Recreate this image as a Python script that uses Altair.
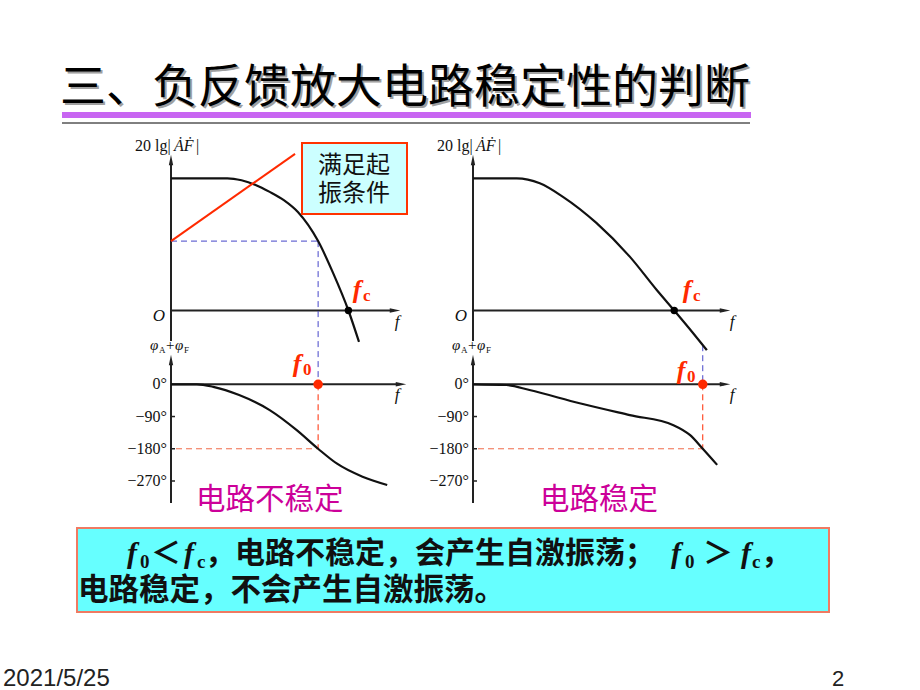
import altair as alt
import pandas as pd

# ---------------- data ----------------
title_text = "三、负反馈放大电路稳定性的判断"
callout_lines = ["满足起", "振条件"]
verdict_left = "电路不稳定"
verdict_right = "电路稳定"
summary_mid = "，电路不稳定，会产生自激振荡；"
summary_line2 = "电路稳定，不会产生自激振荡。"
footer_date = "2021/5/25"
footer_page = "2"

# unstable case (left column): relative frequency f, 20lg|AF| in dB, phase in degrees
L_mag_f = [0, 2.4, 3.0, 3.6, 4.2, 4.8, 5.4, 6.26, 6.9, 7.55, 8.0]
L_mag_db = [40, 40, 39.4, 38.0, 35.9, 33.4, 29.8, 21.0, 11.3, 0, -9.5]
L_ph_f = [0, 1.1, 1.8, 2.9, 4.2, 5.35, 6.26, 7.05, 8.15, 9.2]
L_ph_deg = [0, 0, -7, -30, -72, -128, -180, -221, -258, -281]
L_fc, L_f0 = 7.55, 6.26
L_level_db = 21.0
osc_line_f = [0, 5.28]
osc_line_db = [21.0, 47.4]

# stable case (right column)
R_mag_f = [0, 1.7, 2.6, 3.5, 4.8, 6.1, 7.15, 7.83, 8.56, 9.1]
R_mag_db = [40, 40, 38.5, 34.4, 26.5, 16.3, 6.2, 0, -6.8, -12.0]
R_ph_f = [0, 1.3, 2.2, 4.15, 6.1, 7.8, 8.45, 8.94, 9.5]
R_ph_deg = [0, -2, -16, -53, -86, -114, -142, -180, -225]
R_fc, R_f0 = 7.83, 8.94
R_level_db = -10.5

phase_ticks = [0, -90, -180, -270]
phase_tick_labels = ["0°", "−90°", "−180°", "−270°"]

# ---------------- geometry / style ----------------
W, H = 920, 690
F_PX = {"L": (171.0, 406.0), "R": (473.0, 730.0)}   # pixel of f=0 and f=10
MAG_PX = (310.5, 178.3)                             # pixel of 0 dB and 40 dB
PH_PX = (384.3, 481.0)                              # pixel of 0° and -270°
SERIF = "Liberation Serif, DejaVu Serif, serif"
CJK = "Noto Sans CJK SC"
SANS = "Liberation Sans, Arial, sans-serif"
RED = "#FF2A00"
BLUE = "#4646C8"
INK = "#111111"


def mag_from_px(p):
    return (p - MAG_PX[0]) * 40 / (MAG_PX[1] - MAG_PX[0])


def ph_from_px(p):
    return (p - PH_PX[0]) * -270 / (PH_PX[1] - PH_PX[0])


def f_from_px(col, p):
    a, b = F_PX[col]
    return (p - a) * 10 / (b - a)


def xscale(col):
    if col == "C":
        return alt.Scale(domain=[0, W], range=[0, W], nice=False, zero=False)
    return alt.Scale(domain=[0, 10], range=list(F_PX[col]), nice=False, zero=False)


def yscale(kind):
    if kind == "mag":
        return alt.Scale(domain=[0, 40], range=[MAG_PX[0], MAG_PX[1]], nice=False, zero=False)
    if kind == "ph":
        return alt.Scale(domain=[-270, 0], range=[PH_PX[1], PH_PX[0]], nice=False, zero=False)
    return alt.Scale(domain=[0, H], range=[0, H], nice=False, zero=False)


def XY(col, kind):
    return dict(x=alt.X("f:Q", scale=xscale(col), axis=None),
                y=alt.Y("v:Q", scale=yscale(kind), axis=None))


layers = []


def add_line(f, v, col, kind, color=INK, width=2.0, interp="monotone"):
    df = pd.DataFrame({"f": f, "v": v, "i": list(range(len(f)))})
    layers.append(alt.Chart(df).mark_line(color=color, strokeWidth=width, interpolate=interp)
                  .encode(order="i:Q", **XY(col, kind)))


def add_seg(f, v, f2, v2, col, kind, color=INK, width=1.0, dash=None):
    df = pd.DataFrame({"f": [f], "v": [v], "f2": [f2], "v2": [v2]})
    kw = dict(color=color, strokeWidth=width)
    if dash:
        kw["strokeDash"] = dash
    layers.append(alt.Chart(df).mark_rule(**kw)
                  .encode(x2="f2:Q", y2="v2:Q", **XY(col, kind)))


def add_point(f, v, col, kind, color, size, shape="circle"):
    df = pd.DataFrame({"f": [f], "v": [v]})
    layers.append(alt.Chart(df).mark_point(filled=True, opacity=1, color=color, size=size,
                                           shape=shape, strokeWidth=0)
                  .encode(**XY(col, kind)))


def add_text(f, v, t, col="C", kind="C", size=14, color=INK, font=SERIF, style="normal",
             weight="normal", align="left", baseline="middle", dx=0, dy=0):
    df = pd.DataFrame({"f": [f], "v": [v], "t": [t]})
    layers.append(alt.Chart(df).mark_text(fontSize=size, color=color, font=font, fontStyle=style,
                                          fontWeight=weight, align=align, baseline=baseline,
                                          dx=dx, dy=dy)
                  .encode(text="t:N", **XY(col, kind)))


def add_rect(x, y, x2, y2, fill, stroke=None, sw=0):
    df = pd.DataFrame({"f": [x], "v": [y], "f2": [x2], "v2": [y2]})
    kw = dict(color=fill, opacity=1)
    if stroke:
        kw.update(stroke=stroke, strokeWidth=sw, strokeOpacity=1)
    layers.append(alt.Chart(df).mark_rect(**kw)
                  .encode(x2="f2:Q", y2="v2:Q", **XY("C", "C")))


UP = "M0,-1L0.42,1L-0.42,1Z"
RIGHT = "M1,0L-1,0.42L-1,-0.42Z"

# ---------------- title ----------------
add_text(62, 90, title_text, size=46, color="#A0A0A0", font=CJK)
add_text(60, 88, title_text, size=46, color="#000000", font=CJK)
add_rect(62, 112, 751, 118, "#C866F2")
add_seg(62, 123, 750, 123, "C", "C", color="#000000", width=1)

# ---------------- panels ----------------
for col, mag_f, mag_db, ph_f, ph_deg, fc, f0, lvl, xtip_top in [
        ("L", L_mag_f, L_mag_db, L_ph_f, L_ph_deg, L_fc, L_f0, L_level_db, 400),
        ("R", R_mag_f, R_mag_db, R_ph_f, R_ph_deg, R_fc, R_f0, R_level_db, 730)]:
    x0 = F_PX[col][0]
    # magnitude axes
    add_seg(0, mag_from_px(341), 0, mag_from_px(162), col, "mag", color="#222", width=2)
    add_point(0, mag_from_px(160), col, "mag", "#222", 110, UP)
    add_seg(0, 0, f_from_px(col, xtip_top - 6), 0, col, "mag", color="#222", width=2)
    add_point(f_from_px(col, xtip_top - 5), 0, col, "mag", "#222", 110, RIGHT)
    # phase axes
    add_seg(0, ph_from_px(503), 0, ph_from_px(362), col, "ph", color="#222", width=2)
    add_point(0, ph_from_px(360), col, "ph", "#222", 110, UP)
    add_seg(0, 0, f_from_px(col, F_PX[col][1] - 6), 0, col, "ph", color="#222", width=2)
    add_point(f_from_px(col, F_PX[col][1] - 5), 0, col, "ph", "#222", 110, RIGHT)
    for tv, tl in zip(phase_ticks, phase_tick_labels):
        if tv != 0:
            add_seg(0, tv, f_from_px(col, x0 + 4), tv, col, "ph", color="#222", width=1.5)
        add_text(0, tv, tl, col, "ph", size=16, align="right", dx=-4)

    # guide lines
    add_seg(f0, lvl, f0, mag_from_px(PH_PX[0]), col, "mag", color=BLUE, width=1, dash=[6, 4])
    if col == "L":
        add_seg(0, lvl, f0, lvl, col, "mag", color=BLUE, width=1, dash=[6, 4])
    add_seg(f0, 0, f0, -180, col, "ph", color=RED, width=1, dash=[6, 4])
    add_seg(f_from_px(col, x0 + 5), -180, f0, -180, col, "ph", color="#F06A48", width=1, dash=[6, 4])

    # curves
    add_line(mag_f, mag_db, col, "mag", width=2.2)
    add_line(ph_f, ph_deg, col, "ph", width=2.2)
    add_point(fc, 0, col, "mag", "#000000", 55)
    add_point(f0, 0, col, "ph", RED, 90)

# oscillation condition line (left)
add_line(osc_line_f, osc_line_db, "L", "mag", color=RED, width=2, interp="linear")

# ---------------- panel labels (canvas) ----------------
for shift in (0, 302):
    add_text(135 + shift, 146, "20 lg|", size=16)
    add_text(174 + shift, 146, "ȦḞ", size=16, style="italic")
    add_text(196 + shift, 146, "|", size=16)
    add_text(150 + shift, 345, "φ", size=15, style="italic")
    add_text(159 + shift, 350, "A", size=9)
    add_text(166 + shift, 345, "+", size=15)
    add_text(175 + shift, 345, "φ", size=15, style="italic")
    add_text(184 + shift, 350, "F", size=9)
add_text(159, 316, "O", size=17, style="italic", align="center")
add_text(461, 316, "O", size=17, style="italic", align="center")
for xx, yy in [(397, 322), (397, 395), (732, 322), (732, 395)]:
    add_text(xx, yy, "f", size=17, style="italic", align="center")

# red frequency labels
for xx, yy, sub in [(357, 290, "c"), (687, 290, "c"), (297, 364, "0"), (681, 371, "0")]:
    add_text(xx, yy, "f", size=26, color=RED, style="italic", weight="bold", align="center")
    add_text(xx + 6, yy + 6, sub, size=17, color=RED, weight="bold")

# callout box
add_rect(302, 143, 407, 214, "#CCFFFF", stroke="#FF3300", sw=2)
add_text(354, 166, callout_lines[0], size=24, font=CJK, align="center")
add_text(354, 194, callout_lines[1], size=24, font=CJK, align="center")

# verdicts
add_text(196, 500, verdict_left, size=29.5, color="#CC0099", font=CJK)
add_text(540, 500, verdict_right, size=29.5, color="#CC0099", font=CJK)

# summary box
add_rect(77, 528, 829, 612, "#66FFFF", stroke="#F07A62", sw=2)
Y1, Y2 = 554, 591
for fx, sub, sx in [(127, "0", 140), (184, "c", 197), (671, "0", 685), (741, "c", 752)]:
    add_text(fx, Y1, "f", size=30, style="italic", weight="bold", font=SERIF)
    add_text(sx, Y1 + 8, sub, size=19, weight="bold", font=SERIF)
add_text(151, Y1, "＜", size=30, font=CJK, weight="bold")
add_text(703, Y1, "＞", size=30, font=CJK, weight="bold")
add_text(205, Y1, summary_mid, size=30, font=CJK, weight="bold")
add_text(761, Y1, "，", size=30, font=CJK, weight="bold")
add_text(78, Y2, summary_line2, size=30.5, font=CJK, weight="bold")

# footer
add_text(3, 679, footer_date, size=24, font=SANS, color="#222")
add_text(832, 679, footer_page, size=22, font=SANS, color="#222")

chart = (alt.layer(*layers)
         .resolve_scale(x="independent", y="independent")
         .properties(width=W, height=H, padding=0, autosize=alt.AutoSizeParams(type="none"),
                     background="white")
         .configure_view(stroke=None))

chart.save("out.html", embed_options={"renderer": "svg", "actions": False})
